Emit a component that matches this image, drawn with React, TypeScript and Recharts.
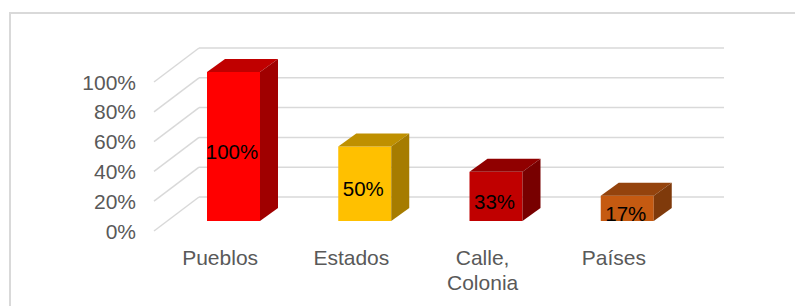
import React from 'react';
import { BarChart, Bar, XAxis, YAxis, CartesianGrid, Cell, LabelList } from 'recharts';

const categories = ['Pueblos', 'Estados', 'Calle, Colonia', 'Países'];
const values = [1, 0.5, 0.33, 0.17];
const yTicks = [0, 0.2, 0.4, 0.6, 0.8, 1];

// front / top / side shades for each bar
const frontColors = ['#FF0000', '#FFC000', '#C00000', '#C55A11'];
const topColors = ['#C00000', '#BF9000', '#900000', '#94430D'];
const sideColors = ['#A00000', '#A67C00', '#780000', '#7F3A0B'];

const data = categories.map((name, i) => ({ name, value: values[i] }));

const FONT = '"Liberation Sans", Arial, sans-serif';
const TEXT = '#595959';
const GRID = '#d9d9d9';

// fake 3D offsets
const DEPTH_X = 18;
const DEPTH_Y = -13;
const pct = (v: number) => `${Math.round(v * 100)}%`;

const Bar3D = (props: any) => {
  const { x, y, width, height, index } = props;
  if (width == null || height == null) return null;
  const i = index ?? 0;
  return (
    <g>
      <rect x={x} y={y} width={width} height={height} fill={frontColors[i]} />
      <polygon
        points={`${x},${y} ${x + DEPTH_X},${y + DEPTH_Y} ${x + width + DEPTH_X},${y + DEPTH_Y} ${x + width},${y}`}
        fill={topColors[i]}
      />
      <polygon
        points={`${x + width},${y} ${x + width + DEPTH_X},${y + DEPTH_Y} ${x + width + DEPTH_X},${y + height + DEPTH_Y} ${x + width},${y + height}`}
        fill={sideColors[i]}
      />
    </g>
  );
};

// back wall line plus the diagonal running to the front edge
const gridLine = (props: any) => {
  const { x1, x2, y1, index } = props;
  return (
    <g key={`g-${index}`}>
      <line x1={x1 + 31} y1={y1 - 24} x2={x2 + 31} y2={y1 - 24} stroke={GRID} strokeWidth={1.5} />
      <line x1={x1 - 14} y1={y1 + 10} x2={x1 + 31} y2={y1 - 24} stroke={GRID} strokeWidth={1.5} />
    </g>
  );
};

const YTick = (props: any) => {
  const { x, y, payload } = props;
  return (
    <text x={x - 32} y={y + 10} dy="0.36em" textAnchor="end" fill={TEXT} fontSize={21} fontFamily={FONT}>
      {pct(payload.value)}
    </text>
  );
};

const XTick = (props: any) => {
  const { x, y, payload } = props;
  const lines = String(payload.value).split(/(?<=,)\s/);
  return (
    <text x={x - 13.5} y={y + 36} textAnchor="middle" fill={TEXT} fontSize={21} fontFamily={FONT}>
      {lines.map((l: string, k: number) => (
        <tspan key={k} x={x - 13.5} dy={k === 0 ? '0.36em' : 25}>
          {l}
        </tspan>
      ))}
    </text>
  );
};

const DataLabel = (props: any) => {
  const { x, y, width, height, value } = props;
  return (
    <text x={x + width / 2 - 1.5} y={y + height / 2 + 5} dy="0.36em" textAnchor="middle" fill="#000" fontSize={20.5} fontFamily={FONT}>
      {pct(value)}
    </text>
  );
};

export default function App() {
  return (
    <div style={{ position: 'absolute', left: 0, top: 0, width: 795, height: 306, overflow: 'hidden', background: '#fff' }}>
      <div
        style={{
          position: 'absolute',
          left: 9,
          top: 12,
          width: 820,
          height: 320,
          border: `2px solid ${GRID}`,
        }}
      />
      <div style={{ position: 'absolute', left: 0, top: 0 }}>
        <BarChart width={795} height={306} data={data} margin={{ top: 72, right: 102, bottom: 0, left: 108 }}>
          <CartesianGrid vertical={false} horizontal={gridLine} />
          <XAxis dataKey="name" height={85} axisLine={false} tickLine={false} tickSize={0} tickMargin={0} tick={<XTick />} interval={0} />
          <YAxis
            width={60}
            domain={[0, 1]}
            ticks={yTicks}
            axisLine={false}
            tickLine={false}
            tickSize={0}
            tickMargin={0}
            tick={<YTick />}
            interval={0}
          />
          <Bar dataKey="value" barSize={53} shape={<Bar3D />} isAnimationActive={false}>
            {data.map((_, i) => (
              <Cell key={i} fill={frontColors[i]} />
            ))}
            <LabelList dataKey="value" content={<DataLabel />} />
          </Bar>
        </BarChart>
      </div>
    </div>
  );
}
